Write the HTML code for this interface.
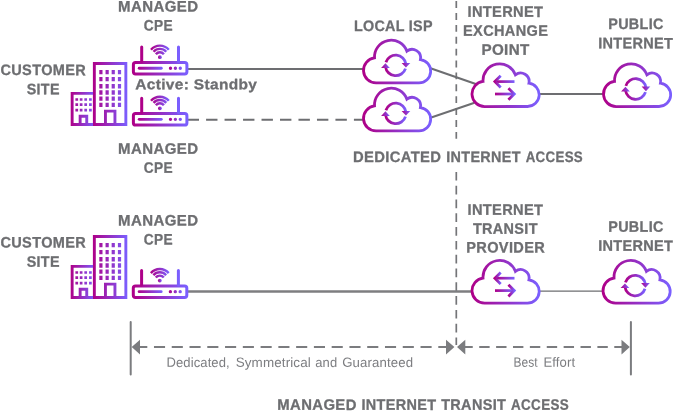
<!DOCTYPE html><html><head><meta charset="utf-8"><title>Managed Internet Access</title>
<style>html,body{margin:0;padding:0;background:#fff}svg{display:block;will-change:transform}text{font-family:"Liberation Sans",sans-serif}</style></head><body>
<svg width="674" height="411" viewBox="0 0 674 411" text-rendering="geometricPrecision">
<defs><linearGradient id="gr" x1="0" y1="0" x2="1" y2="0"><stop offset="0" stop-color="#ae0088"/><stop offset="1" stop-color="#7a5fff"/></linearGradient><linearGradient id="gT" gradientUnits="userSpaceOnUse" x1="92.9" y1="0" x2="127.3" y2="0"><stop offset="0" stop-color="#ae0088"/><stop offset="1" stop-color="#7a5fff"/></linearGradient><linearGradient id="gS" gradientUnits="userSpaceOnUse" x1="70.7" y1="0" x2="95" y2="0"><stop offset="0" stop-color="#ae0088"/><stop offset="1" stop-color="#7a5fff"/></linearGradient></defs>
<rect width="674" height="411" fill="#fff"/>
<path d="M456.3 1.1 V139.2" stroke="#747578" stroke-width="1.7" stroke-dasharray="6.9 4.99" fill="none"/>
<path d="M456.3 171.9 V345" stroke="#747578" stroke-width="1.7" stroke-dasharray="8.7 5.1" fill="none"/>
<path d="M187 69.05 H363" stroke="#6d6e71" stroke-width="2.1" fill="none"/>
<path d="M187.6 119.7 H363" stroke="#6d6e71" stroke-width="2.1" stroke-dasharray="11.4 7.08" fill="none"/>
<path d="M430.5 68.3 L476.5 84.19" stroke="#6d6e71" stroke-width="2" fill="none"/>
<path d="M430.5 117.75 L474.5 102.7" stroke="#6d6e71" stroke-width="2" fill="none"/>
<path d="M539 94 H603" stroke="#6d6e71" stroke-width="1.8" fill="none"/>
<path d="M187 291.5 H472" stroke="#7e7e80" stroke-width="2.6" fill="none"/>
<path d="M539 291.1 H603" stroke="#6d6e71" stroke-width="1.3" fill="none"/>
<path d="M130.7 322.1 V374.6 M630.9 322.1 V374.6" stroke="#7b7c7f" stroke-width="2" stroke-linecap="round" fill="none"/>
<path d="M136.2 347.1 H447" stroke="#7b7c7f" stroke-width="2" stroke-dasharray="11.1 6.67" fill="none"/>
<path d="M462.35 347.1 H622.5" stroke="#7b7c7f" stroke-width="2" stroke-dasharray="10.4 6.48" fill="none"/>
<path d="M131.7 347.1 l8.3 -7.3 v14.6 z M454.4 347.1 l-8.4 -7.4 v14.8 z M457 347.1 l8.3 -7.4 v14.8 z M629.8 347.1 l-8.3 -7.3 v14.6 z" fill="#7b7c7f"/>
<g transform="translate(0,0)"><path fill="none" stroke="url(#gT)" stroke-width="2.9" d="M94.35 63.55 h31.5 v61 h-31.5 z M105.45 124 V111.1 H114.95 V124"/><path fill="none" stroke="url(#gS)" stroke-width="2.9" d="M93 93.35 H72.15 V124.5 H93 M80.15 124 V116.2 H86.75 V124"/><path fill="url(#gT)" d="M99.30 69.90h3.2v4.3h-3.2zM105.55 69.90h3.2v4.3h-3.2zM111.65 69.90h3.2v4.3h-3.2zM117.90 69.90h3.2v4.3h-3.2zM99.30 76.95h3.2v4.3h-3.2zM105.55 76.95h3.2v4.3h-3.2zM111.65 76.95h3.2v4.3h-3.2zM117.90 76.95h3.2v4.3h-3.2zM99.30 84.10h3.2v4.3h-3.2zM105.55 84.10h3.2v4.3h-3.2zM111.65 84.10h3.2v4.3h-3.2zM117.90 84.10h3.2v4.3h-3.2zM99.30 90.35h3.2v4.3h-3.2zM105.55 90.35h3.2v4.3h-3.2zM111.65 90.35h3.2v4.3h-3.2zM117.90 90.35h3.2v4.3h-3.2zM99.30 96.55h3.2v4.3h-3.2zM105.55 96.55h3.2v4.3h-3.2zM111.65 96.55h3.2v4.3h-3.2zM117.90 96.55h3.2v4.3h-3.2zM99.30 102.65h3.2v4.3h-3.2zM105.55 102.65h3.2v4.3h-3.2zM111.65 102.65h3.2v4.3h-3.2zM117.90 102.65h3.2v4.3h-3.2z"/><path fill="url(#gS)" d="M75.41 98.15h2.7v2.7h-2.7zM79.79 98.15h2.7v2.7h-2.7zM84.35 98.15h2.7v2.7h-2.7zM89.05 98.15h2.7v2.7h-2.7zM75.41 103.35h2.7v2.7h-2.7zM79.79 103.35h2.7v2.7h-2.7zM84.35 103.35h2.7v2.7h-2.7zM89.05 103.35h2.7v2.7h-2.7zM75.41 108.75h2.7v2.7h-2.7zM79.79 108.75h2.7v2.7h-2.7zM84.35 108.75h2.7v2.7h-2.7zM89.05 108.75h2.7v2.7h-2.7z"/></g>
<g transform="translate(0,173)"><path fill="none" stroke="url(#gT)" stroke-width="2.9" d="M94.35 63.55 h31.5 v61 h-31.5 z M105.45 124 V111.1 H114.95 V124"/><path fill="none" stroke="url(#gS)" stroke-width="2.9" d="M93 93.35 H72.15 V124.5 H93 M80.15 124 V116.2 H86.75 V124"/><path fill="url(#gT)" d="M99.30 69.90h3.2v4.3h-3.2zM105.55 69.90h3.2v4.3h-3.2zM111.65 69.90h3.2v4.3h-3.2zM117.90 69.90h3.2v4.3h-3.2zM99.30 76.95h3.2v4.3h-3.2zM105.55 76.95h3.2v4.3h-3.2zM111.65 76.95h3.2v4.3h-3.2zM117.90 76.95h3.2v4.3h-3.2zM99.30 84.10h3.2v4.3h-3.2zM105.55 84.10h3.2v4.3h-3.2zM111.65 84.10h3.2v4.3h-3.2zM117.90 84.10h3.2v4.3h-3.2zM99.30 90.35h3.2v4.3h-3.2zM105.55 90.35h3.2v4.3h-3.2zM111.65 90.35h3.2v4.3h-3.2zM117.90 90.35h3.2v4.3h-3.2zM99.30 96.55h3.2v4.3h-3.2zM105.55 96.55h3.2v4.3h-3.2zM111.65 96.55h3.2v4.3h-3.2zM117.90 96.55h3.2v4.3h-3.2zM99.30 102.65h3.2v4.3h-3.2zM105.55 102.65h3.2v4.3h-3.2zM111.65 102.65h3.2v4.3h-3.2zM117.90 102.65h3.2v4.3h-3.2z"/><path fill="url(#gS)" d="M75.41 98.15h2.7v2.7h-2.7zM79.79 98.15h2.7v2.7h-2.7zM84.35 98.15h2.7v2.7h-2.7zM89.05 98.15h2.7v2.7h-2.7zM75.41 103.35h2.7v2.7h-2.7zM79.79 103.35h2.7v2.7h-2.7zM84.35 103.35h2.7v2.7h-2.7zM89.05 103.35h2.7v2.7h-2.7zM75.41 108.75h2.7v2.7h-2.7zM79.79 108.75h2.7v2.7h-2.7zM84.35 108.75h2.7v2.7h-2.7zM89.05 108.75h2.7v2.7h-2.7z"/></g>
<g transform="translate(132,61)"><rect x="1.4" y="1.5" width="53.5" height="11.5" rx="2.2" fill="none" stroke="url(#gr)" stroke-width="3"/><path fill="none" stroke="url(#gr)" stroke-width="3" stroke-linecap="round" d="M9.7 0.5 V-13.9 M46.5 0.5 V-13.9"/><rect x="5.8" y="5.85" width="24.9" height="2.8" rx="1.4" fill="url(#gr)"/><path fill="url(#gr)" d="M36.8 7.25 a1.7 1.7 0 1 0 3.4 0 a1.7 1.7 0 1 0 -3.4 0 M41.7 7.25 a1.7 1.7 0 1 0 3.4 0 a1.7 1.7 0 1 0 -3.4 0 M46.6 7.25 a1.7 1.7 0 1 0 3.4 0 a1.7 1.7 0 1 0 -3.4 0"/><path fill="none" stroke="url(#gr)" stroke-width="2.4" d="M23.88 -6.84 A5.1 5.1 0 0 1 31.92 -6.84 M21.56 -9.21 A8.4 8.4 0 0 1 34.24 -9.21 M19.00 -11.30 A11.7 11.7 0 0 1 36.80 -11.30 "/><circle cx="27.9" cy="-3.8" r="1.9" fill="url(#gr)"/></g>
<g transform="translate(132,112.1)"><rect x="1.4" y="1.5" width="53.5" height="11.5" rx="2.2" fill="none" stroke="url(#gr)" stroke-width="3"/><path fill="none" stroke="url(#gr)" stroke-width="3" stroke-linecap="round" d="M9.7 0.5 V-13.9 M46.5 0.5 V-13.9"/><rect x="5.8" y="5.85" width="24.9" height="2.8" rx="1.4" fill="url(#gr)"/><path fill="url(#gr)" d="M36.8 7.25 a1.7 1.7 0 1 0 3.4 0 a1.7 1.7 0 1 0 -3.4 0 M41.7 7.25 a1.7 1.7 0 1 0 3.4 0 a1.7 1.7 0 1 0 -3.4 0 M46.6 7.25 a1.7 1.7 0 1 0 3.4 0 a1.7 1.7 0 1 0 -3.4 0"/><path fill="none" stroke="url(#gr)" stroke-width="2.4" d="M23.88 -6.84 A5.1 5.1 0 0 1 31.92 -6.84 M21.56 -9.21 A8.4 8.4 0 0 1 34.24 -9.21 M19.00 -11.30 A11.7 11.7 0 0 1 36.80 -11.30 "/><circle cx="27.9" cy="-3.8" r="1.9" fill="url(#gr)"/></g>
<g transform="translate(131.9,284.4)"><rect x="1.4" y="1.5" width="53.5" height="11.5" rx="2.2" fill="none" stroke="url(#gr)" stroke-width="3"/><path fill="none" stroke="url(#gr)" stroke-width="3" stroke-linecap="round" d="M9.7 0.5 V-13.9 M46.5 0.5 V-13.9"/><rect x="5.8" y="5.85" width="24.9" height="2.8" rx="1.4" fill="url(#gr)"/><path fill="url(#gr)" d="M36.8 7.25 a1.7 1.7 0 1 0 3.4 0 a1.7 1.7 0 1 0 -3.4 0 M41.7 7.25 a1.7 1.7 0 1 0 3.4 0 a1.7 1.7 0 1 0 -3.4 0 M46.6 7.25 a1.7 1.7 0 1 0 3.4 0 a1.7 1.7 0 1 0 -3.4 0"/><path fill="none" stroke="url(#gr)" stroke-width="2.4" d="M23.88 -6.84 A5.1 5.1 0 0 1 31.92 -6.84 M21.56 -9.21 A8.4 8.4 0 0 1 34.24 -9.21 M19.00 -11.30 A11.7 11.7 0 0 1 36.80 -11.30 "/><circle cx="27.9" cy="-3.8" r="1.9" fill="url(#gr)"/></g>
<g transform="translate(362,39)"><path fill="none" stroke="url(#gr)" stroke-width="2.8" stroke-linejoin="miter" d="M14.10 43.95 A12.6 12.6 0 0 1 12.53 18.85 A16.7 16.7 0 0 1 44.89 12.18 A8.5 8.5 0 0 1 58.43 20.59 A11.7 11.7 0 0 1 57.00 43.90 Z"/><path fill="none" stroke="url(#gr)" stroke-width="2.8" d="M23.90 23.22 A10.3 10.3 0 0 1 43.90 24.97"/><path fill="none" stroke="url(#gr)" stroke-width="2.8" d="M43.50 29.58 A10.3 10.3 0 0 1 23.50 27.83"/><path fill="url(#gr)" d="M39.60 23.90 h8.7 l-4.35 4.7 Z"/><path fill="url(#gr)" d="M19.10 28.90 h8.7 l-4.35 -4.7 Z"/></g>
<g transform="translate(362,87)"><path fill="none" stroke="url(#gr)" stroke-width="2.8" stroke-linejoin="miter" d="M14.10 43.95 A12.6 12.6 0 0 1 12.53 18.85 A16.7 16.7 0 0 1 44.89 12.18 A8.5 8.5 0 0 1 58.43 20.59 A11.7 11.7 0 0 1 57.00 43.90 Z"/><path fill="none" stroke="url(#gr)" stroke-width="2.8" d="M23.90 23.22 A10.3 10.3 0 0 1 43.90 24.97"/><path fill="none" stroke="url(#gr)" stroke-width="2.8" d="M43.50 29.58 A10.3 10.3 0 0 1 23.50 27.83"/><path fill="url(#gr)" d="M39.60 23.90 h8.7 l-4.35 4.7 Z"/><path fill="url(#gr)" d="M19.10 28.90 h8.7 l-4.35 -4.7 Z"/></g>
<g transform="translate(470.5,62.6)"><path fill="none" stroke="url(#gr)" stroke-width="2.8" stroke-linejoin="miter" d="M14.10 43.95 A12.6 12.6 0 0 1 12.53 18.85 A16.7 16.7 0 0 1 44.89 12.18 A8.5 8.5 0 0 1 58.43 20.59 A11.7 11.7 0 0 1 57.00 43.90 Z"/><rect x="25.8" y="17.65" width="18.2" height="2.7" fill="url(#gr)"/><path fill="none" stroke="url(#gr)" stroke-width="2.8" d="M30.2 13.2 L24.4 19 L30.2 24.8"/><rect x="24.5" y="30.05" width="17.8" height="2.7" fill="url(#gr)"/><path fill="none" stroke="url(#gr)" stroke-width="2.8" d="M37.95 25.6 L43.75 31.4 L37.95 37.2"/></g>
<g transform="translate(602,62.6)"><path fill="none" stroke="url(#gr)" stroke-width="2.8" stroke-linejoin="miter" d="M14.10 43.95 A12.6 12.6 0 0 1 12.53 18.85 A16.7 16.7 0 0 1 44.89 12.18 A8.5 8.5 0 0 1 58.43 20.59 A11.7 11.7 0 0 1 57.00 43.90 Z"/><path fill="none" stroke="url(#gr)" stroke-width="2.8" d="M23.90 23.22 A10.3 10.3 0 0 1 43.90 24.97"/><path fill="none" stroke="url(#gr)" stroke-width="2.8" d="M43.50 29.58 A10.3 10.3 0 0 1 23.50 27.83"/><path fill="url(#gr)" d="M39.60 23.90 h8.7 l-4.35 4.7 Z"/><path fill="url(#gr)" d="M19.10 28.90 h8.7 l-4.35 -4.7 Z"/></g>
<g transform="translate(470.5,259.2)"><path fill="none" stroke="url(#gr)" stroke-width="2.8" stroke-linejoin="miter" d="M14.10 43.95 A12.6 12.6 0 0 1 12.53 18.85 A16.7 16.7 0 0 1 44.89 12.18 A8.5 8.5 0 0 1 58.43 20.59 A11.7 11.7 0 0 1 57.00 43.90 Z"/><rect x="25.8" y="17.65" width="18.2" height="2.7" fill="url(#gr)"/><path fill="none" stroke="url(#gr)" stroke-width="2.8" d="M30.2 13.2 L24.4 19 L30.2 24.8"/><rect x="24.5" y="30.05" width="17.8" height="2.7" fill="url(#gr)"/><path fill="none" stroke="url(#gr)" stroke-width="2.8" d="M37.95 25.6 L43.75 31.4 L37.95 37.2"/></g>
<g transform="translate(601.5,259.2)"><path fill="none" stroke="url(#gr)" stroke-width="2.8" stroke-linejoin="miter" d="M14.10 43.95 A12.6 12.6 0 0 1 12.53 18.85 A16.7 16.7 0 0 1 44.89 12.18 A8.5 8.5 0 0 1 58.43 20.59 A11.7 11.7 0 0 1 57.00 43.90 Z"/><path fill="none" stroke="url(#gr)" stroke-width="2.8" d="M23.90 23.22 A10.3 10.3 0 0 1 43.90 24.97"/><path fill="none" stroke="url(#gr)" stroke-width="2.8" d="M43.50 29.58 A10.3 10.3 0 0 1 23.50 27.83"/><path fill="url(#gr)" d="M39.60 23.90 h8.7 l-4.35 4.7 Z"/><path fill="url(#gr)" d="M19.10 28.90 h8.7 l-4.35 -4.7 Z"/></g>
<text transform="translate(118.05,11.52) rotate(0.05) scale(0.991,1)" font-size="15.15" font-weight="bold" fill="#6d6e71" stroke="#6d6e71" stroke-width="0.3" textLength="80.7" lengthAdjust="spacing">MANAGED</text>
<text transform="translate(143.65,30.44) rotate(0.05) scale(0.903,1)" font-size="15.15" font-weight="bold" fill="#6d6e71" stroke="#6d6e71" stroke-width="0.3" textLength="32.1" lengthAdjust="spacing">CPE</text>
<text transform="translate(0.40,75.06) rotate(0.05) scale(0.959,1)" font-size="15.15" font-weight="bold" fill="#6d6e71" stroke="#6d6e71" stroke-width="0.3" textLength="89.1" lengthAdjust="spacing">CUSTOMER</text>
<text transform="translate(26.65,94.29) rotate(0.05) scale(0.945,1)" font-size="15.15" font-weight="bold" fill="#6d6e71" stroke="#6d6e71" stroke-width="0.3" textLength="34.7" lengthAdjust="spacing">SITE</text>
<text transform="translate(135.25,89.20) rotate(0.05) scale(1.073,1)" font-size="14.4" font-weight="bold" fill="#6d6e71" stroke="#6d6e71" stroke-width="0.3" textLength="113.3" lengthAdjust="spacing">Active: Standby</text>
<text transform="translate(118.05,153.72) rotate(0.05) scale(0.991,1)" font-size="15.15" font-weight="bold" fill="#6d6e71" stroke="#6d6e71" stroke-width="0.3" textLength="80.7" lengthAdjust="spacing">MANAGED</text>
<text transform="translate(143.65,172.64) rotate(0.05) scale(0.903,1)" font-size="15.15" font-weight="bold" fill="#6d6e71" stroke="#6d6e71" stroke-width="0.3" textLength="32.1" lengthAdjust="spacing">CPE</text>
<text transform="translate(353.95,31.02) rotate(0.05) scale(0.946,1)" font-size="15.15" font-weight="bold" fill="#6d6e71" stroke="#6d6e71" stroke-width="0.3" textLength="83.0" lengthAdjust="spacing">LOCAL ISP</text>
<text transform="translate(467.55,16.82) rotate(0.05) scale(0.966,1)" font-size="15.15" font-weight="bold" fill="#6d6e71" stroke="#6d6e71" stroke-width="0.3" textLength="78.1" lengthAdjust="spacing">INTERNET</text>
<text transform="translate(463.05,35.71) rotate(0.05) scale(0.959,1)" font-size="15.15" font-weight="bold" fill="#6d6e71" stroke="#6d6e71" stroke-width="0.3" textLength="88.5" lengthAdjust="spacing">EXCHANGE</text>
<text transform="translate(481.45,54.73) rotate(0.05) scale(1.002,1)" font-size="15.15" font-weight="bold" fill="#6d6e71" stroke="#6d6e71" stroke-width="0.3" textLength="47.7" lengthAdjust="spacing">POINT</text>
<text transform="translate(608.25,29.03) rotate(0.05) scale(0.948,1)" font-size="15.15" font-weight="bold" fill="#6d6e71" stroke="#6d6e71" stroke-width="0.3" textLength="58.1" lengthAdjust="spacing">PUBLIC</text>
<text transform="translate(598.15,48.32) rotate(0.05) scale(0.958,1)" font-size="15.15" font-weight="bold" fill="#6d6e71" stroke="#6d6e71" stroke-width="0.3" textLength="78.1" lengthAdjust="spacing">INTERNET</text>
<text transform="translate(352.95,161.91) rotate(0.05) scale(0.978,1)" font-size="15.15" font-weight="bold" fill="#6d6e71" stroke="#6d6e71" stroke-width="0.3" textLength="90.0" lengthAdjust="spacing">DEDICATED</text>
<text transform="translate(446.25,161.92) rotate(0.05) scale(0.95,1)" font-size="15.15" font-weight="bold" fill="#6d6e71" stroke="#6d6e71" stroke-width="0.3" textLength="78.1" lengthAdjust="spacing">INTERNET</text>
<text transform="translate(525.65,161.93) rotate(0.05) scale(0.877,1)" font-size="15.15" font-weight="bold" fill="#6d6e71" stroke="#6d6e71" stroke-width="0.3" textLength="65.1" lengthAdjust="spacing">ACCESS</text>
<text transform="translate(0.40,247.51) rotate(0.05) scale(0.959,1)" font-size="15.15" font-weight="bold" fill="#6d6e71" stroke="#6d6e71" stroke-width="0.3" textLength="89.1" lengthAdjust="spacing">CUSTOMER</text>
<text transform="translate(26.65,266.74) rotate(0.05) scale(0.945,1)" font-size="15.15" font-weight="bold" fill="#6d6e71" stroke="#6d6e71" stroke-width="0.3" textLength="34.7" lengthAdjust="spacing">SITE</text>
<text transform="translate(118.05,225.52) rotate(0.05) scale(0.991,1)" font-size="15.15" font-weight="bold" fill="#6d6e71" stroke="#6d6e71" stroke-width="0.3" textLength="80.7" lengthAdjust="spacing">MANAGED</text>
<text transform="translate(143.65,244.54) rotate(0.05) scale(0.903,1)" font-size="15.15" font-weight="bold" fill="#6d6e71" stroke="#6d6e71" stroke-width="0.3" textLength="32.1" lengthAdjust="spacing">CPE</text>
<text transform="translate(467.55,214.82) rotate(0.05) scale(0.966,1)" font-size="15.15" font-weight="bold" fill="#6d6e71" stroke="#6d6e71" stroke-width="0.3" textLength="78.1" lengthAdjust="spacing">INTERNET</text>
<text transform="translate(472.95,233.72) rotate(0.05) scale(0.953,1)" font-size="15.15" font-weight="bold" fill="#6d6e71" stroke="#6d6e71" stroke-width="0.3" textLength="67.7" lengthAdjust="spacing">TRANSIT</text>
<text transform="translate(466.25,252.42) rotate(0.05) scale(0.962,1)" font-size="15.15" font-weight="bold" fill="#6d6e71" stroke="#6d6e71" stroke-width="0.3" textLength="81.6" lengthAdjust="spacing">PROVIDER</text>
<text transform="translate(608.25,231.63) rotate(0.05) scale(0.948,1)" font-size="15.15" font-weight="bold" fill="#6d6e71" stroke="#6d6e71" stroke-width="0.3" textLength="58.1" lengthAdjust="spacing">PUBLIC</text>
<text transform="translate(598.15,250.82) rotate(0.05) scale(0.958,1)" font-size="15.15" font-weight="bold" fill="#6d6e71" stroke="#6d6e71" stroke-width="0.3" textLength="78.1" lengthAdjust="spacing">INTERNET</text>
<text transform="translate(166.50,366.87) rotate(0.05) scale(0.972,1)" font-size="13.4" font-weight="normal" fill="#7c7d80" textLength="65.0" lengthAdjust="spacing">Dedicated,</text>
<text transform="translate(235.70,366.87) rotate(0.05) scale(1.004,1)" font-size="13.4" font-weight="normal" fill="#7c7d80" textLength="74.8" lengthAdjust="spacing">Symmetrical</text>
<text transform="translate(315.20,366.89) rotate(0.05) scale(0.969,1)" font-size="13.4" font-weight="normal" fill="#7c7d80" textLength="22.7" lengthAdjust="spacing">and</text>
<text transform="translate(342.20,366.87) rotate(0.05) scale(0.985,1)" font-size="13.4" font-weight="normal" fill="#7c7d80" textLength="71.9" lengthAdjust="spacing">Guaranteed</text>
<text transform="translate(513.40,366.74) rotate(0.05) scale(0.893,1)" font-size="13.4" font-weight="normal" fill="#7c7d80" textLength="27.2" lengthAdjust="spacing">Best</text>
<text transform="translate(543.50,366.74) rotate(0.05) scale(0.979,1)" font-size="13.4" font-weight="normal" fill="#7c7d80" textLength="32.3" lengthAdjust="spacing">Effort</text>
<text transform="translate(277.25,409.82) rotate(0.05) scale(0.981,1)" font-size="15.15" font-weight="bold" fill="#6d6e71" stroke="#6d6e71" stroke-width="0.3" textLength="80.7" lengthAdjust="spacing">MANAGED</text>
<text transform="translate(361.45,409.82) rotate(0.05) scale(0.954,1)" font-size="15.15" font-weight="bold" fill="#6d6e71" stroke="#6d6e71" stroke-width="0.3" textLength="78.1" lengthAdjust="spacing">INTERNET</text>
<text transform="translate(441.15,409.82) rotate(0.05) scale(0.956,1)" font-size="15.15" font-weight="bold" fill="#6d6e71" stroke="#6d6e71" stroke-width="0.3" textLength="67.7" lengthAdjust="spacing">TRANSIT</text>
<text transform="translate(511.05,409.82) rotate(0.05) scale(0.886,1)" font-size="15.15" font-weight="bold" fill="#6d6e71" stroke="#6d6e71" stroke-width="0.3" textLength="65.1" lengthAdjust="spacing">ACCESS</text>
</svg></body></html>
